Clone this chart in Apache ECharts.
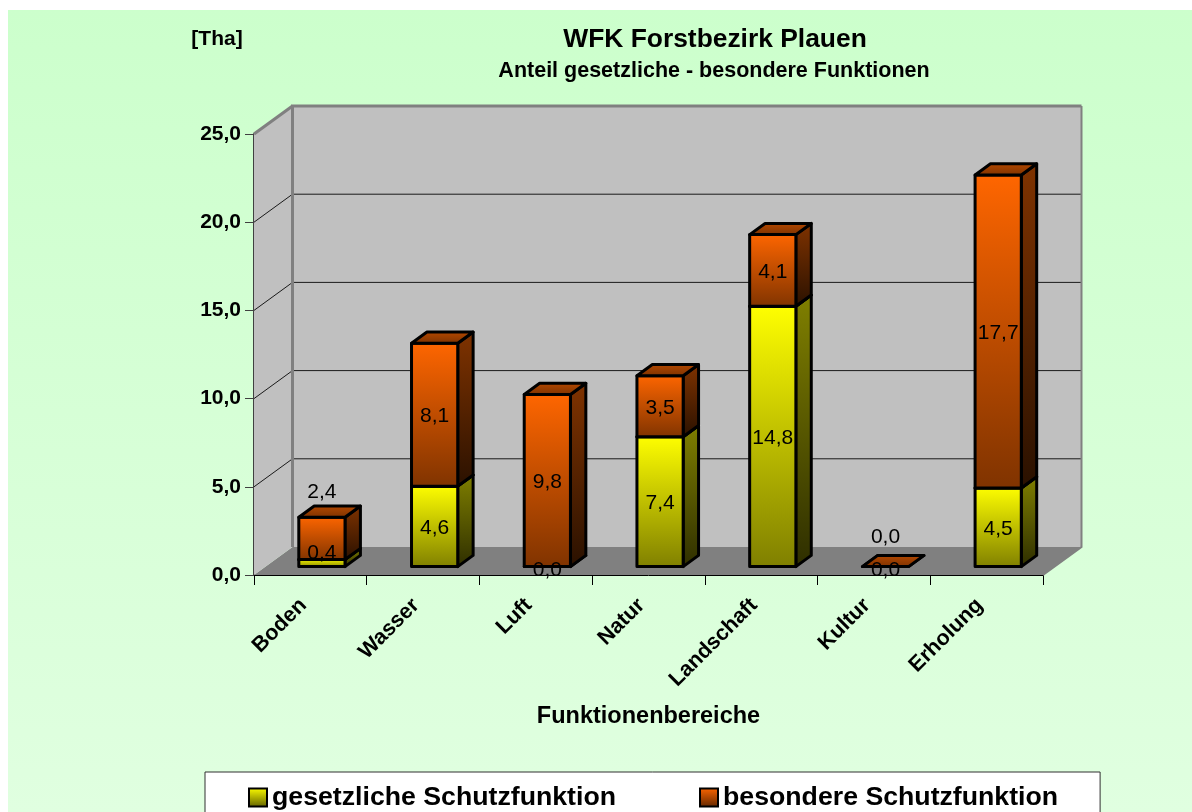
<!DOCTYPE html>
<html><head><meta charset="utf-8">
<style>html,body{margin:0;padding:0;background:#fff;overflow:hidden}#c{width:1192px;height:812px}</style>
<script src="https://cdn.jsdelivr.net/npm/echarts@6/dist/echarts.min.js"></script>
</head><body><div id="c"></div>
<script>
const categories = ['Boden','Wasser','Luft','Natur','Landschaft','Kultur','Erholung'];
const legalValues = [0.4,4.56,0.0,7.36,14.76,0.0,4.46];
const specialValues = [2.4,8.1,9.76,3.46,4.06,0.0,17.74];
const legalName = 'gesetzliche Schutzfunktion';
const specialName = 'besondere Schutzfunktion';
const yTicks = [0,5,10,15,20,25];
const FONT = '"Liberation Sans", Arial, sans-serif';
// Excel's hand-lifted data labels (pixels above the segment centre), by series and category
const labelLift = {legal:{0:11,2:-2,5:-2}, special:{0:48,5:31}};
// Oblique projection of the 3D box
const DEPTH = {x:38.5,y:28}, BAR = {front:0.3,back:0.7,widthRatio:0.41};
const vgrad = (a,b)=>({type:'linear',x:0,y:0,x2:0,y2:1,colorStops:[{offset:0,color:a},{offset:1,color:b}]});
const looks = {
  legal:{front:vgrad('#ffff00','#7f7f00'),side:vgrad('#808000','#2e2e00'),top:vgrad('#b0b000','#707000')},
  special:{front:vgrad('#ff6600','#7f3300'),side:vgrad('#803300','#2a1100'),top:vgrad('#b84a00','#7a3100')}
};
const fmt = v=>v.toFixed(1).replace('.',',');
const poly = (points,fill,stroke,lw)=>({type:'polygon',shape:{points},style:{fill,stroke,lineWidth:lw,lineJoin:'round'}});

function renderWalls(params,api){
  const cs=params.coordSys, l=cs.x, r=cs.x+cs.width;
  const y0=api.coord([0,0])[1], y1=api.coord([0,25])[1];
  const dx=DEPTH.x, dy=DEPTH.y, c=[];
  c.push(poly([[l,y0],[l+dx,y0-dy],[r+dx,y0-dy],[r,y0]],'#808080',null,0));
  c.push(poly([[l,y0],[l+dx,y0-dy],[l+dx,y1-dy],[l,y1]],'#c0c0c0',null,0));
  c.push(poly([[l+dx,y0-dy],[r+dx,y0-dy],[r+dx,y1-dy],[l+dx,y1-dy]],'#c0c0c0',null,0));
  yTicks.slice(1,-1).forEach(v=>{
    const y=api.coord([0,v])[1];
    c.push({type:'polyline',shape:{points:[[l,y],[l+dx,y-dy],[r+dx,y-dy]]},style:{stroke:'#1a1a1a',lineWidth:1,fill:null}});
  });
  const edge={stroke:'#808080',lineWidth:3,fill:null,lineJoin:'miter'};
  c.push({type:'polyline',shape:{points:[[l+dx,y0-dy],[l+dx,y1-dy],[r+dx,y1-dy]]},style:edge});
  c.push({type:'polyline',shape:{points:[[l,y1],[l+dx,y1-dy]]},style:edge});
  c.push({type:'polyline',shape:{points:[[r+dx,y1-dy],[r+dx,y0-dy],[r,y0]]},style:{stroke:'#808080',lineWidth:2,fill:null}});
  return {type:'group',children:c};
}
function geom(api,i,v){
  const band=api.size([1,0])[0], p=api.coord([i,v]);
  const w=band*BAR.widthRatio;
  const x=p[0]-w/2+DEPTH.x*BAR.front, y=p[1]-DEPTH.y*BAR.front;
  const sx=DEPTH.x*(BAR.back-BAR.front), sy=DEPTH.y*(BAR.back-BAR.front);
  return {x,y,w,sx,sy};
}
function barRenderer(look){
  return (params,api)=>{
    const i=api.value(0), a=geom(api,i,api.value(1)), b=geom(api,i,api.value(2));
    const k=[], s='#000', lw=3;
    if(a.y-b.y>0.5){
      k.push(poly([[b.x+b.w,b.y],[b.x+b.w+b.sx,b.y-b.sy],[a.x+a.w+a.sx,a.y-a.sy],[a.x+a.w,a.y]],look.side,s,lw));
      k.push({type:'rect',shape:{x:a.x,y:b.y,width:a.w,height:a.y-b.y},style:{fill:look.front,stroke:s,lineWidth:lw,lineJoin:'round'}});
    }
    k.push(poly([[b.x,b.y],[b.x+b.sx,b.y-b.sy],[b.x+b.w+b.sx,b.y-b.sy],[b.x+b.w,b.y]],look.top,s,lw));
    return {type:'group',children:k};
  };
}
function labelRenderer(lift){
  return (params,api)=>{
    const i=api.value(0), a=geom(api,i,api.value(1)), b=geom(api,i,api.value(2));
    return {type:'text',style:{text:fmt(api.value(2)-api.value(1)),x:a.x+a.w/2,y:(a.y+b.y)/2-(lift[i]||0)+1.5,
      fill:'#000',font:'21px '+FONT,align:'center',verticalAlign:'middle'}};
  };
}
const legalRows=categories.map((_,i)=>[i,0,legalValues[i]]);
const specialRows=categories.map((_,i)=>[i,legalValues[i],legalValues[i]+specialValues[i]]);
const custom=(name,data,renderItem,z,color)=>({type:'custom',name,data,renderItem,z,silent:true,clip:false,
  encode:{x:0,y:2},itemStyle:color?{color}:undefined});

const chart=echarts.init(document.getElementById('c'),null,{renderer:'canvas'});
chart.setOption({
  animation:false,
  backgroundColor:'#fff',
  graphic:[{type:'rect',z:-10,silent:true,shape:{x:8,y:10,width:1184,height:802},
    style:{fill:vgrad('#ccffcc','#e0ffe0')}}],
  title:[
    {text:'WFK Forstbezirk Plauen',left:715,top:40,textAlign:'center',textVerticalAlign:'middle',textStyle:{fontFamily:FONT,fontSize:26.4,fontWeight:'bold',color:'#000'},padding:0},
    {text:'Anteil gesetzliche - besondere Funktionen',left:714,top:71,textAlign:'center',textVerticalAlign:'middle',textStyle:{fontFamily:FONT,fontSize:21.5,fontWeight:'bold',color:'#000'},padding:0},
    {text:'[Tha]',left:217,top:39,textAlign:'center',textVerticalAlign:'middle',textStyle:{fontFamily:FONT,fontSize:21,fontWeight:'bold',color:'#000'},padding:0}
  ],
  legend:{left:205,top:772,padding:[12,42,12,43],itemGap:83,itemWidth:18,itemHeight:18,selectedMode:false,
    backgroundColor:'#fff',borderColor:'#303030',borderWidth:1,
    textStyle:{fontFamily:FONT,fontSize:26.7,fontWeight:'bold',color:'#000'},
    data:[
      {name:legalName,icon:'rect',itemStyle:{color:vgrad('#ffff00','#5f5f00'),borderColor:'#000',borderWidth:2}},
      {name:specialName,icon:'rect',itemStyle:{color:vgrad('#ff6600','#5f2600'),borderColor:'#000',borderWidth:2}}
    ]},
  grid:{left:254,top:134,width:789,height:441,containLabel:false},
  xAxis:{type:'category',data:categories,name:'Funktionenbereiche',nameLocation:'middle',nameGap:130,
    nameTextStyle:{fontFamily:FONT,fontSize:23.5,fontWeight:'bold',color:'#000'},
    axisLine:{lineStyle:{color:'#000',width:1}},axisTick:{show:true,length:10,alignWithLabel:false,lineStyle:{color:'#000'}},
    splitLine:{show:false},
    axisLabel:{rotate:45,interval:0,margin:20,padding:[0,10,0,0],fontFamily:FONT,fontSize:21.5,fontWeight:'bold',color:'#000'}},
  yAxis:{type:'value',min:0,max:25,interval:5,
    axisLine:{show:true,lineStyle:{color:'#404040',width:2}},axisTick:{show:true,length:9,lineStyle:{color:'#404040'}},
    splitLine:{show:false},
    axisLabel:{margin:13,padding:[5,0,0,0],formatter:v=>fmt(v),fontFamily:FONT,fontSize:21,fontWeight:'bold',color:'#000'}},
  series:[
    custom('walls',[[0,0,25]],renderWalls,1),
    custom(legalName,legalRows,barRenderer(looks.legal),3,'#ffff00'),
    custom(specialName,specialRows,barRenderer(looks.special),4,'#ff6600'),
    custom('legalLabels',legalRows,labelRenderer(labelLift.legal),6),
    custom('specialLabels',specialRows,labelRenderer(labelLift.special),6)
  ]
});
</script></body></html>
